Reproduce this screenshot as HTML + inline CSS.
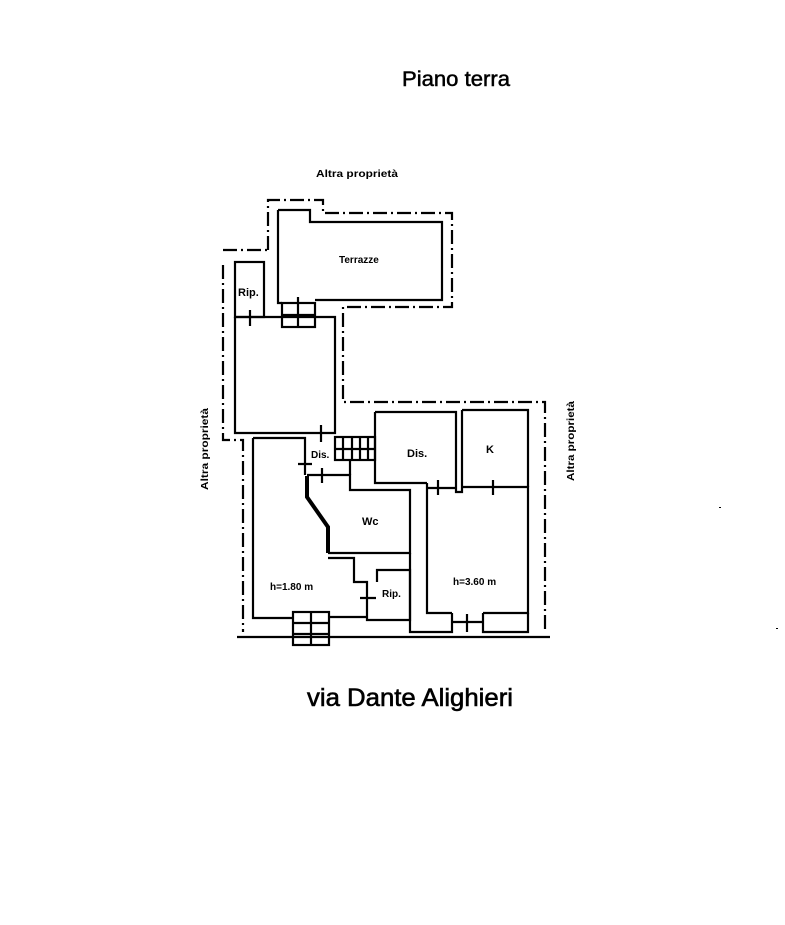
<!DOCTYPE html>
<html><head><meta charset="utf-8"><style>
html,body{margin:0;padding:0;background:#fff;}
svg{display:block;}
text{font-family:"Liberation Sans",sans-serif;fill:#000;}
</style></head><body>
<svg width="785" height="925" viewBox="0 0 785 925" xmlns="http://www.w3.org/2000/svg">
<rect width="785" height="925" fill="#fff"/>
<text x="402" y="86" font-size="21" stroke="#000" stroke-width="0.5" textLength="108" lengthAdjust="spacingAndGlyphs">Piano terra</text>
<text x="307" y="706" font-size="25" stroke="#000" stroke-width="0.6" textLength="206" lengthAdjust="spacingAndGlyphs">via Dante Alighieri</text>
<text x="316" y="177" font-size="10" font-weight="bold" textLength="82" lengthAdjust="spacingAndGlyphs">Altra proprietà</text>
<text transform="translate(208,490) rotate(-90)" font-size="10" font-weight="bold" textLength="82" lengthAdjust="spacingAndGlyphs">Altra proprietà</text>
<text transform="translate(574,481) rotate(-90)" font-size="10" font-weight="bold" textLength="80" lengthAdjust="spacingAndGlyphs">Altra proprietà</text>
<rect x="719" y="507" width="2" height="1" fill="#000"/>
<rect x="776" y="628" width="2" height="1" fill="#000"/>

<g fill="none" stroke="#000" stroke-width="2.2" stroke-dasharray="14,4,2,4">
<path d="M268,250 V200 H323 V213 H452 V307 H343 V402 H545 V632"/>
<path d="M223,250 H268"/>
<path d="M223,265 V440 H243 V632"/>
</g>
<g fill="none" stroke="#000" stroke-width="2.2">
<path d="M237,637 H550"/>
<path d="M278,210 H310 V222 H442 V300 H315 M282,303 H278 V210"/>
<rect x="282" y="303" width="33" height="24"/>
<path d="M282,315 H315 M298,297 V327"/>
<rect x="235" y="262" width="29" height="55"/>
<path d="M250,310 V326"/>
<path d="M235,317 H335 V433 H305 M235,317 V433 H305"/>
<path d="M321,425 V442"/>
<path d="M253,438 H305 V475 M253,438 V618 H293"/>
<rect x="293" y="612" width="36" height="33"/>
<path d="M293,623 H329 M293,634 H329 M311,612 V645"/>
<path d="M329,617 H367"/>
<path d="M307,475 H350 V490 H410 V553 H328" />
<path d="M307,476 V497 L328,527 V553" stroke-width="4"/>
<path d="M328,558 H354 V582 H367 V620 H410 V570 H377 V582 M367,582 V617"/>
<path d="M322,468 V483 M298,464 H312 M360,598 H376"/>
<rect x="335" y="437" width="40" height="23"/>
<path d="M343,437 V460 M352,437 V460 M360,437 V460 M368,437 V460 M335,449 H375"/>
<path d="M350,460 V475"/>
<path d="M375,412 H456 V483 M375,412 V483 H427"/>
<path d="M462,410 H528 V487 M462,410 V487"/>
<path d="M456,483 V492 H462 V487"/>
<path d="M427,483 V613 H452 M483,613 H528 V487 H462 M456,488 H427"/>
<path d="M410,553 V632 H452 V613 M483,613 V632 H528 V613"/>
<path d="M452,622 H483 M467,614 V632 M438,480 V495 M493,480 V495"/>
</g>
<g font-size="11" font-weight="bold">
<text x="339" y="263" font-size="10">Terrazze</text>
<text x="238" y="296">Rip.</text>
<text x="311" y="458" font-size="10">Dis.</text>
<text x="407" y="457">Dis.</text>
<text x="486" y="453">K</text>
<text x="362" y="525">Wc</text>
<text x="270" y="590" font-size="10">h=1.80 m</text>
<text x="453" y="585" font-size="10">h=3.60 m</text>
<text x="382" y="597" font-size="10">Rip.</text>
</g>
</svg>
</body></html>
